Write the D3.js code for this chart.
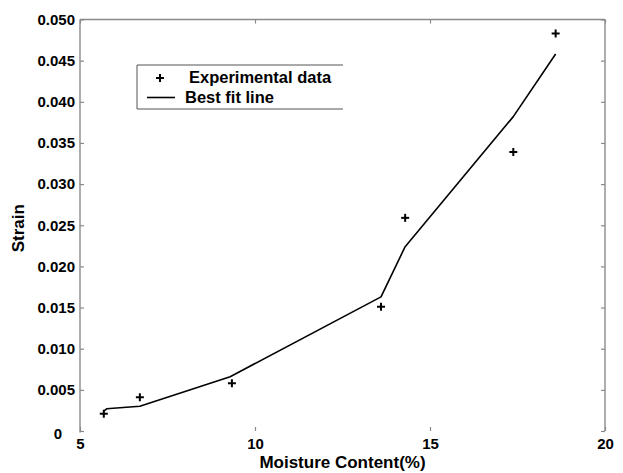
<!DOCTYPE html>
<html>
<head>
<meta charset="utf-8">
<script src="https://cdn.jsdelivr.net/npm/d3@7"></script>
<style>
  html, body { margin: 0; padding: 0; background: #fff; }
  svg text { font-family: "Liberation Sans", Arial, sans-serif; font-weight: bold; fill: #000; }
</style>
</head>
<body>
<svg id="chart" width="623" height="473"></svg>
<script>
// ---- data ----
const dataX = [5.68, 6.71, 9.34, 13.6, 14.29, 17.38, 18.59];
const dataY = [0.0021, 0.0041, 0.0058, 0.0151, 0.0259, 0.0339, 0.0483];
const fitX = [5.68, 5.76, 6.71, 9.29, 13.6, 14.29, 17.38, 18.59];
const fitY = [0.0024, 0.0027, 0.0030, 0.0066, 0.0163, 0.0224, 0.0382, 0.0458];
const xTicks = [5, 10, 15, 20];
const yTicks = [0, 0.005, 0.010, 0.015, 0.020, 0.025, 0.030, 0.035, 0.040, 0.045, 0.050];
const yTickLabels = ["0", "0.005", "0.010", "0.015", "0.020", "0.025", "0.030", "0.035", "0.040", "0.045", "0.050"];
const legendLabels = ["Experimental data", "Best fit line"];
const xTitle = "Moisture Content(%)";
const yTitle = "Strain";

const svg = d3.select("#chart");
const L = 80, R = 605, T = 19.5, B = 431;
const x = d3.scaleLinear().domain([5, 20]).range([L, R]);
const y = d3.scaleLinear().domain([0, 0.05]).range([B, T]);
const axisColor = "#8a8a8a";

// axis lines: left, top, right (no bottom line visible)
svg.append("line").attr("x1", L).attr("x2", L).attr("y1", T).attr("y2", B + 1.5)
  .attr("stroke", axisColor).attr("stroke-width", 1.4);
svg.append("line").attr("x1", L).attr("x2", R).attr("y1", T).attr("y2", T)
  .attr("stroke", axisColor).attr("stroke-width", 1.4);
svg.append("line").attr("x1", R).attr("x2", R).attr("y1", T).attr("y2", B)
  .attr("stroke", axisColor).attr("stroke-width", 1.4);

// left axis: ticks inward, labels outside
const yAxis = d3.axisLeft(y).tickValues(yTicks).tickSize(-4).tickPadding(5)
  .tickFormat((d, i) => yTickLabels[i]);
const gy = svg.append("g").attr("transform", `translate(${L},0)`).call(yAxis);
gy.select(".domain").remove();
gy.selectAll(".tick line").attr("stroke", axisColor).attr("stroke-width", 1.2);
gy.selectAll(".tick text").style("font-size", "15px").attr("font-family", null);
gy.selectAll(".tick text").filter(d => d === 0).attr("x", -18).attr("dy", "0.5em");

// right axis ticks inward
const yAxisR = d3.axisRight(y).tickValues(yTicks).tickSize(-4).tickFormat("");
const gyr = svg.append("g").attr("transform", `translate(${R},0)`).call(yAxisR);
gyr.select(".domain").remove();
gyr.selectAll(".tick line").attr("stroke", axisColor).attr("stroke-width", 1.2);

// bottom axis: ticks inward, labels below
const xAxis = d3.axisBottom(x).tickValues(xTicks).tickSize(-4).tickPadding(7).tickFormat(d3.format("d"));
const gx = svg.append("g").attr("transform", `translate(0,${B})`).call(xAxis);
gx.select(".domain").remove();
gx.selectAll(".tick line").attr("stroke", axisColor).attr("stroke-width", 1.2);
gx.selectAll(".tick text").style("font-size", "15px").attr("font-family", null);

// top axis ticks inward
const xAxisT = d3.axisTop(x).tickValues(xTicks).tickSize(-4).tickFormat("");
const gxt = svg.append("g").attr("transform", `translate(0,${T})`).call(xAxisT);
gxt.select(".domain").remove();
gxt.selectAll(".tick line").attr("stroke", axisColor).attr("stroke-width", 1.2);

// axis titles
svg.append("text").attr("x", (L + R) / 2).attr("y", 468).attr("text-anchor", "middle")
  .style("font-size", "17px").text(xTitle);
svg.append("text").attr("transform", `translate(24,${(T + B) / 2 + 3}) rotate(-90)`)
  .attr("text-anchor", "middle").style("font-size", "17px").text(yTitle);

// best fit line
const line = d3.line().x(d => x(d[0])).y(d => y(d[1]));
svg.append("path").datum(fitX.map((v, i) => [v, fitY[i]]))
  .attr("d", line).attr("fill", "none").attr("stroke", "#000").attr("stroke-width", 1.6)
  .attr("stroke-linejoin", "round");

// experimental crosses
const cs = 4;
const pts = svg.append("g").selectAll("g").data(dataX.map((v, i) => [v, dataY[i]])).join("g")
  .attr("transform", d => `translate(${x(d[0])},${y(d[1])})`);
pts.append("line").attr("x1", -cs).attr("x2", cs).attr("y1", 0).attr("y2", 0)
  .attr("stroke", "#000").attr("stroke-width", 2);
pts.append("line").attr("x1", 0).attr("x2", 0).attr("y1", -cs).attr("y2", cs)
  .attr("stroke", "#000").attr("stroke-width", 2);

// legend (box with left, top, bottom edges visible)
const lg = svg.append("g");
const lx0 = 137, lx1 = 343, ly0 = 65, ly1 = 109;
lg.append("path").attr("d", `M${lx1},${ly0}H${lx0}V${ly1}H${lx1}`)
  .attr("fill", "none").attr("stroke", "#555").attr("stroke-width", 1);
lg.append("line").attr("x1", 160 - cs).attr("x2", 160 + cs).attr("y1", 78).attr("y2", 78)
  .attr("stroke", "#000").attr("stroke-width", 2);
lg.append("line").attr("x1", 160).attr("x2", 160).attr("y1", 78 - cs).attr("y2", 78 + cs)
  .attr("stroke", "#000").attr("stroke-width", 2);
lg.append("text").attr("x", 189).attr("y", 83).style("font-size", "16.5px").text(legendLabels[0]);
lg.append("line").attr("x1", 147).attr("x2", 175).attr("y1", 97.5).attr("y2", 97.5)
  .attr("stroke", "#000").attr("stroke-width", 1.6);
lg.append("text").attr("x", 185).attr("y", 102.5).style("font-size", "16.5px").text(legendLabels[1]);
</script>
</body>
</html>
